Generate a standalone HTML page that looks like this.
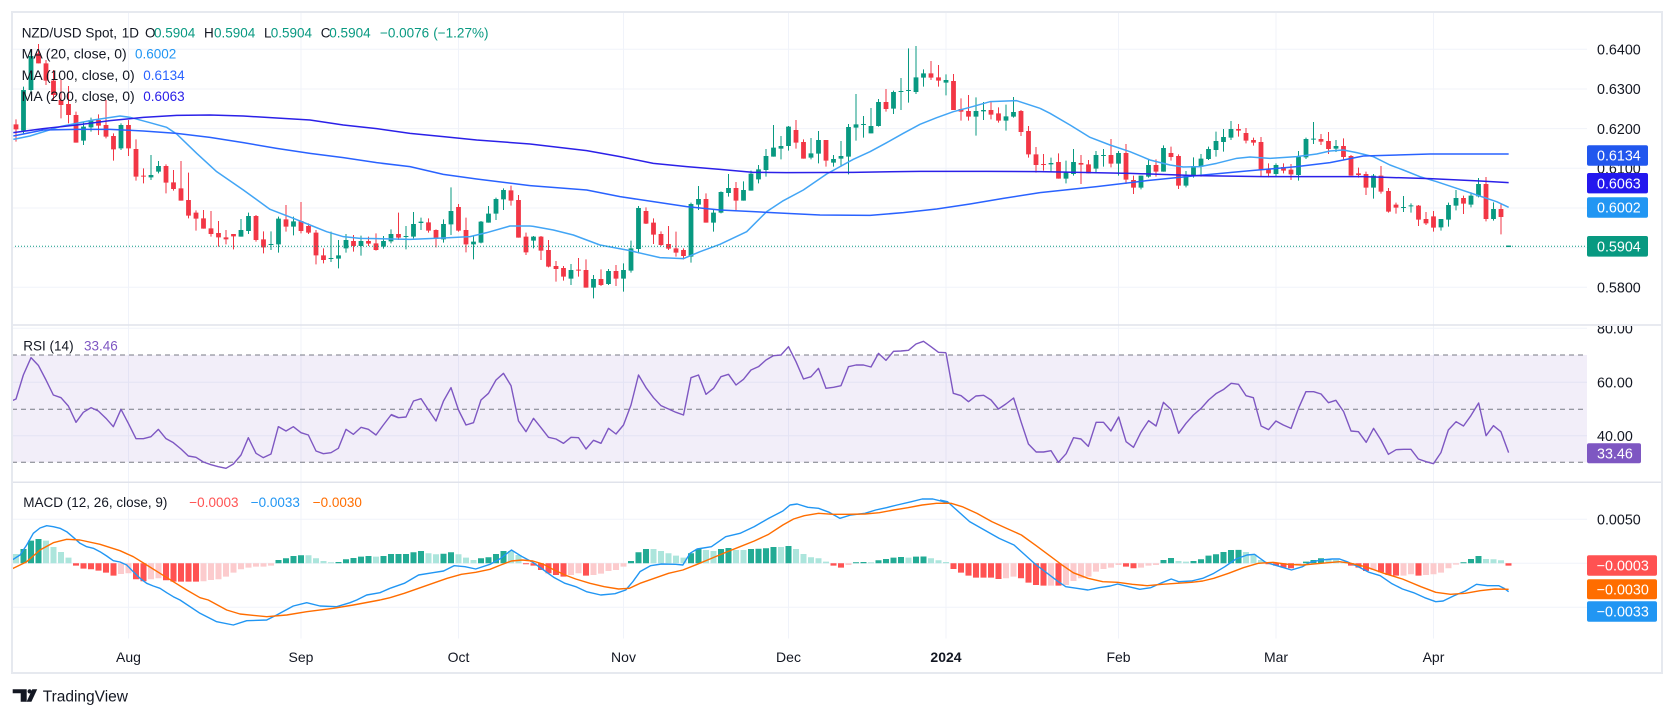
<!DOCTYPE html>
<html><head><meta charset="utf-8"><style>
html,body{margin:0;padding:0;background:#fff;}
svg{display:block;font-family:"Liberation Sans",Arial,sans-serif;}
</style></head><body>
<svg width="1675" height="718" viewBox="0 0 1675 718" xmlns="http://www.w3.org/2000/svg">
<defs>
<clipPath id="cp"><rect x="12" y="12" width="1575" height="313"/></clipPath>
<clipPath id="cr"><rect x="12" y="326" width="1575" height="156"/></clipPath>
<clipPath id="cm"><rect x="12" y="483" width="1575" height="156"/></clipPath>
<clipPath id="cra"><rect x="1587" y="326" width="75" height="156"/></clipPath>
</defs>
<rect x="0" y="0" width="1675" height="718" fill="#fff"/>
<!-- grid -->
<g stroke="#f0f3fa" stroke-width="1">
<path d="M12 49.3H1587M12 89H1587M12 128.6H1587M12 168.3H1587M12 208H1587M12 247.6H1587M12 287.3H1587"/>
<path d="M12 328.3H1587M12 382.3H1587M12 435.8H1587"/>
<path d="M12 519.3H1587M12 563.3H1587M12 607.3H1587"/>
<path d="M128.5 12V638.5M301 12V638.5M458.5 12V638.5M623.5 12V638.5M788.5 12V638.5M946 12V638.5M1118.5 12V638.5M1276 12V638.5M1433.5 12V638.5"/>
</g>
<!-- price pane -->
<g clip-path="url(#cp)">
<g transform="translate(16,30) scale(7.5,0.333333)">
<path vector-effect="non-scaling-stroke" stroke="#089981" stroke-width="1" fill="none" d="M1 170V310M2 60V185M9 275V345M10 263V305M14 280V360M18 375V450M19 393V430M30 567V620M31 548V612M34 604V660M35 560V668M37 560V616M42 605V696M43 630V715M44 612V668M46 617V677M49 618V656M50 598V640M52 588V658M53 546V625M54 563V600M57 568V638M58 472V615M61 617V688M62 573V640M63 528V578M64 503V570M65 475V540M69 618V655M74 702V765M77 735V805M79 717V765M81 700V785M82 632V728M83 528V670M90 518V698M91 468V540M93 537V605M94 484V550M95 432V500M97 454V512M98 422V482M99 405V460M100 357V440M101 285V380M102 318V388M103 288V362M106 324V388M107 303V400M109 375V410M110 333V410M111 282V433M112 192V332M113 258V323M114 234V310M115 207V290M117 182V252M118 144V240M119 55V218M120 48V192M121 118V170M124 133V196M128 202V317M129 216V270M132 224V302M133 201V263M138 383V425M140 392V460M141 357V437M144 363V430M145 357V410M147 363V437M150 437V478M151 390V443M153 346V425M156 423V472M157 382V443M158 372V440M159 350V390M160 305V380M161 297V365M162 273V330M168 400V440M171 363V452M172 323V387M173 276V342M176 330V366M181 432V506M185 498V546M186 520V548M190 567V602M191 518V590M192 480V541M194 487V532M195 444V502M197 517V572"/>
<path vector-effect="non-scaling-stroke" stroke="#f23645" stroke-width="1" fill="none" d="M0 268V335M3 42V100M4 90V165M5 120V210M6 150V265M7 168V280M8 245V338M11 253V315M12 210V325M13 310V392M15 270V378M16 328V452M17 415V460M20 403V490M21 420V482M22 393V512M23 428V565M24 541V602M25 540V596M26 543V620M27 573V650M28 600V643M29 612V658M32 555V635M33 604V670M36 525V605M38 516V610M39 580V612M40 600V703M41 655V700M45 615V665M47 620V648M48 610V662M51 548V630M55 565V608M56 598V652M59 522V605M60 563V667M66 467V527M67 495V623M68 608V675M70 618V690M71 630V712M72 693V755M73 708V752M75 684V740M76 688V773M78 718V768M80 705V768M84 532V582M85 565V642M86 604V648M87 588V660M88 605V680M89 655V688M92 490V578M96 456V540M104 270V356M105 328V386M108 330V410M116 177V245M122 93V150M123 105V170M125 132V240M126 205V272M127 195V272M130 215V268M131 232V278M134 240V318M135 288V383M136 351V428M137 372V422M139 370V446M142 375V462M143 390V430M146 327V412M148 342V462M149 437V492M152 388V440M154 350V392M155 373V477M163 282V320M164 294V340M165 323V347M166 321V438M167 400V442M169 400V430M170 402V450M174 312V345M175 306V372M177 325V388M178 375V437M179 413V443M180 425V495M182 408V491M183 474V548M184 518V551M187 525V588M188 546V585M189 543V605M193 497V552M196 441V574M198 522V613"/>
<path fill="#089981" d="M.68 180H1.32V302H.68zM1.68 78H2.32V180H1.68zM8.68 290H9.32V332H8.68zM9.68 270H10.32V292H9.68zM13.68 285H14.32V355H13.68zM17.68 435H18.32V442H17.68zM18.68 408H19.32V425H18.68zM29.68 600H30.32V620H29.68zM30.68 558H31.32V603H30.68zM33.68 642H34.32V645H33.68zM34.68 566H35.32V643H34.68zM36.68 574H37.32V590H36.68zM41.68 684H42.32V687H41.68zM42.68 676H43.32V686H42.68zM43.68 630H44.32V655H43.68zM45.68 633H46.32V648H45.68zM48.68 633H49.32V650H48.68zM49.68 612H50.32V634H49.68zM51.68 618H52.32V621H51.68zM52.68 582H53.32V620H52.68zM53.68 575H54.32V579H53.68zM56.68 582H57.32V628H56.68zM57.68 543H58.32V583H57.68zM60.68 635H61.32V643H60.68zM61.68 575H62.32V638H61.68zM62.68 551H63.32V578H62.68zM63.68 507H64.32V551H63.68zM64.68 480H65.32V508H64.68zM68.68 620H69.32V632H68.68zM73.68 720H74.32V746H73.68zM76.68 747H77.32V773H76.68zM78.68 723H79.32V762H78.68zM80.68 720H81.32V746H80.68zM81.68 655H82.32V722H81.68zM82.68 534H83.32V657H82.68zM89.68 522H90.32V680H89.68zM90.68 507H91.32V524H90.68zM92.68 548H93.32V578H92.68zM93.68 486H94.32V548H93.68zM94.68 474H95.32V489H94.68zM96.68 480H97.32V512H96.68zM97.68 431H98.32V482H97.68zM98.68 418H99.32V448H98.68zM99.68 378H100.32V420H99.68zM100.68 353H101.32V380H100.68zM101.68 348H102.32V356H101.68zM102.68 290H103.32V348H102.68zM105.68 370H106.32V383H105.68zM106.68 330H107.32V371H106.68zM108.68 387H109.32V398H108.68zM109.68 378H110.32V386H109.68zM110.68 291H111.32V380H110.68zM111.68 283H112.32V293H111.68zM112.68 282H113.32V285H112.68zM113.68 288H114.32V310H113.68zM114.68 216H115.32V288H114.68zM116.68 186H117.32V236H116.68zM117.68 183H118.32V186H117.68zM118.68 180H119.32V183H118.68zM119.68 142H120.32V186H119.68zM120.68 130H121.32V143H120.68zM123.68 150H124.32V158H123.68zM127.68 243H128.32V260H127.68zM128.68 240H129.32V244H128.68zM131.68 259H132.32V272H131.68zM132.68 246H133.32V260H132.68zM137.68 399H138.32V403H137.68zM139.68 428H140.32V446H139.68zM140.68 396H141.32V432H140.68zM143.68 375H144.32V416H143.68zM144.68 375H145.32V378H144.68zM146.68 369H147.32V401H146.68zM149.68 437H150.32V473H149.68zM150.68 405H151.32V440H150.68zM152.68 354H153.32V425H152.68zM155.68 435H156.32V467H155.68zM156.68 408H157.32V437H156.68zM157.68 386H158.32V410H157.68zM158.68 357H159.32V387H158.68zM159.68 333H160.32V360H159.68zM160.68 321H161.32V336H160.68zM161.68 297H162.32V323H161.68zM167.68 405H168.32V432H167.68zM170.68 380H171.32V435H170.68zM171.68 327H172.32V382H171.68zM172.68 326H173.32V329H172.68zM175.68 348H176.32V356H175.68zM180.68 437H181.32V473H180.68zM184.68 531H185.32V534H184.68zM185.68 526H186.32V529H185.68zM189.68 567H190.32V592H189.68zM190.68 525H191.32V569H190.68zM191.68 504H192.32V527H191.68zM193.68 497H194.32V524H193.68zM194.68 462H195.32V499H194.68zM196.68 537H197.32V567H196.68zM198.68 647H199.32V651H198.68z"/>
<path fill="#f23645" d="M-.32 283H.32V298H-.32zM2.68 70H3.32V100H2.68zM3.68 100H4.32V152H3.68zM4.68 152H5.32V195H4.68zM5.68 210H6.32V225H5.68zM6.68 222H7.32V255H6.68zM7.68 255H8.32V338H7.68zM10.68 270H11.32V287H10.68zM11.68 285H12.32V320H11.68zM12.68 318H13.32V358H12.68zM14.68 285H15.32V355H14.68zM15.68 357H16.32V440H15.68zM16.68 437H17.32V440H16.68zM19.68 408H20.32V458H19.68zM20.68 457H21.32V477H20.68zM21.68 475H22.32V512H21.68zM22.68 510H23.32V557H22.68zM23.68 548H24.32V566H23.68zM24.68 565H25.32V596H24.68zM25.68 595H26.32V612H25.68zM26.68 609H27.32V622H26.68zM27.68 622H28.32V628H27.68zM28.68 612H29.32V619H28.68zM31.68 558H32.32V630H31.68zM32.68 628H33.32V652H32.68zM35.68 568H36.32V590H35.68zM37.68 573H38.32V603H37.68zM38.68 588H39.32V608H38.68zM39.68 608H40.32V676H39.68zM40.68 676H41.32V690H40.68zM44.68 633H45.32V648H44.68zM46.68 633H47.32V641H46.68zM47.68 640H48.32V660H47.68zM50.68 612H51.32V623H50.68zM54.68 577H55.32V602H54.68zM55.68 600H56.32V626H55.68zM58.68 531H59.32V602H58.68zM59.68 600H60.32V643H59.68zM65.68 481H66.32V512H65.68zM66.68 510H67.32V623H66.68zM67.68 620H68.32V667H67.68zM69.68 620H70.32V662H69.68zM70.68 660H71.32V710H70.68zM71.68 708H72.32V717H71.68zM72.68 714H73.32V740H72.68zM74.68 719H75.32V722H74.68zM75.68 720H76.32V773H75.68zM77.68 747H78.32V765H77.68zM79.68 723H80.32V746H79.68zM83.68 543H84.32V581H83.68zM84.68 578H85.32V614H84.68zM85.68 612H86.32V645H85.68zM86.68 642H87.32V656H86.68zM87.68 655H88.32V668H87.68zM88.68 660H89.32V678H88.68zM91.68 507H92.32V578H91.68zM95.68 474H96.32V512H95.68zM103.68 300H104.32V338H103.68zM104.68 336H105.32V386H104.68zM107.68 330H108.32V392H107.68zM115.68 216H116.32V237H115.68zM121.68 130H122.32V143H121.68zM122.68 142H123.32V152H122.68zM124.68 153H125.32V240H124.68zM125.68 237H126.32V245H125.68zM126.68 243H127.32V260H126.68zM129.68 240H130.32V254H129.68zM130.68 250H131.32V272H130.68zM133.68 243H134.32V306H133.68zM134.68 303H135.32V373H134.68zM135.68 373H136.32V405H135.68zM136.68 402H137.32V405H136.68zM138.68 396H139.32V446H138.68zM141.68 399H142.32V404H141.68zM142.68 403H143.32V430H142.68zM145.68 375H146.32V401H145.68zM147.68 369H148.32V449H147.68zM148.68 450H149.32V473H148.68zM151.68 405H152.32V425H151.68zM153.68 369H154.32V381H153.68zM154.68 378H155.32V467H154.68zM162.68 297H163.32V302H162.68zM163.68 309H164.32V332H163.68zM164.68 330H165.32V338H164.68zM165.68 336H166.32V418H165.68zM166.68 418H167.32V430H166.68zM168.68 411H169.32V422H168.68zM169.68 419H170.32V433H169.68zM173.68 327H174.32V335H173.68zM174.68 333H175.32V357H174.68zM176.68 348H177.32V381H176.68zM177.68 378H178.32V437H177.68zM178.68 430H179.32V435H178.68zM179.68 432H180.32V473H179.68zM181.68 437H182.32V485H181.68zM182.68 483H183.32V545H182.68zM183.68 524H184.32V533H183.68zM186.68 527H187.32V569H186.68zM187.68 567H188.32V580H187.68zM188.68 559H189.32V593H188.68zM192.68 504H193.32V521H192.68zM195.68 462H196.32V567H195.68zM197.68 537H198.32V561H197.68z"/>
</g>
<!-- MAs -->
<g fill="none" stroke-width="1.5" stroke-linejoin="round">
<g transform="translate(10,30) scale(0.333333)">
<polyline vector-effect="non-scaling-stroke" stroke="#42a5f5" points="10,328 60,318 150,290 250,270 330,258 360,262 420,278 470,292 500,312 560,370 620,425 700,480 780,538 850,565 900,585 950,605 1000,620 1050,625 1100,626 1200,628 1300,624 1380,620 1430,608 1500,588 1560,588"/>
<polyline vector-effect="non-scaling-stroke" stroke="#2962ff" points="10,318 100,300 200,298 300,298 400,303 500,310 600,322 700,338 800,355 900,370 1000,383 1100,398 1200,410 1300,433 1400,447 1560,467"/>
<polyline vector-effect="non-scaling-stroke" stroke="#2b20e8" points="10,308 100,296 200,285 300,272 400,262 500,256 600,255 700,258 800,264 900,270 1000,285 1100,296 1200,310 1300,320 1400,330 1560,342"/>
</g>
<g transform="translate(520,30) scale(0.333333)">
<polyline vector-effect="non-scaling-stroke" stroke="#42a5f5" points="30,588 40,589 100,600 160,615 240,645 330,662 420,683 490,686 540,665 600,643 680,605 740,545 790,512 850,480 920,432 1000,388 1050,365 1100,338 1150,310 1200,283 1250,263 1300,245 1350,232 1410,215 1490,212 1560,235"/>
<polyline vector-effect="non-scaling-stroke" stroke="#2962ff" points="30,467 200,480 300,500 400,515 500,530 600,540 700,545 800,550 900,555 1050,556 1150,548 1250,537 1350,522 1450,505 1560,488"/>
<polyline vector-effect="non-scaling-stroke" stroke="#2b20e8" points="30,342 200,362 300,380 400,400 500,410 600,418 700,427 800,428 1000,427 1200,424 1400,424 1560,425"/>
</g>
<g transform="translate(1030,30) scale(0.333333)">
<polyline vector-effect="non-scaling-stroke" stroke="#42a5f5" points="30,235 60,250 120,285 180,322 240,345 300,365 360,390 420,405 460,411 510,410 560,400 620,385 660,381 720,385 800,380 860,372 900,363 940,360 980,368 1030,380 1080,405 1120,420 1170,440 1220,455 1280,475 1340,495 1400,515 1436,532"/>
<polyline vector-effect="non-scaling-stroke" stroke="#2962ff" points="30,488 200,470 350,452 500,437 650,423 800,410 900,398 1000,378 1200,372 1436,372"/>
<polyline vector-effect="non-scaling-stroke" stroke="#2b20e8" points="30,425 300,430 500,437 700,440 1000,440 1200,446 1350,453 1436,458"/>
</g>
</g>
<line x1="12" y1="246.3" x2="1587" y2="246.3" stroke="#089981" stroke-width="1" stroke-dasharray="1 2"/>
<line x1="1506" y1="246.3" x2="1511" y2="246.3" stroke="#089981" stroke-width="1.5"/>
</g>
<!-- RSI pane -->
<g clip-path="url(#cr)">
<rect x="12" y="355" width="1575" height="107.3" fill="#7e57c2" fill-opacity="0.1"/>
<g stroke="#787b86" stroke-width="1" stroke-dasharray="5 4">
<line x1="12" y1="355" x2="1587" y2="355"/>
<line x1="12" y1="409.3" x2="1587" y2="409.3"/>
<line x1="12" y1="462.3" x2="1587" y2="462.3"/>
</g>
<g fill="none" stroke="#7e57c2" stroke-width="1.4" stroke-linejoin="round">
<g transform="translate(0,300) scale(0.333333)">
<polyline vector-effect="non-scaling-stroke" points="30,305 48,297 70,225 93,173 115,196 138,240 160,285 183,293 205,318 228,367 250,337 273,323 295,333 318,355 340,380 363,328 385,370 408,416 430,416 453,410 475,388 498,416 520,428 543,447 565,468 588,472 610,486 633,494 655,500 678,505 700,492 723,465 745,413 768,460 790,473 813,462 835,380 858,393 880,380 903,398 925,405 948,453 970,461 993,458 1015,445 1038,388 1060,403 1083,382 1105,388 1128,405 1150,375 1173,345 1195,353"/>
</g>
<g transform="translate(390,325) scale(0.357143,0.333333)">
<polyline vector-effect="non-scaling-stroke" points="2.8,268 23.8,278 44.8,276 65.8,228 86.8,221 107.8,255 128.8,288 149.8,228 170.8,188 191.8,255 212.8,300 233.8,293 254.8,225 275.8,205 296.8,165 317.8,145 338.8,182 359.8,288 380.8,320 401.8,280 422.8,308 443.8,337 464.8,342 485.8,355 506.8,337 527.8,338 548.8,372 569.8,346 590.8,355 611.8,310 632.8,327 653.8,300 674.8,240 695.8,150 716.8,188 737.8,218 758.8,242 779.8,252 800.8,262 821.8,270 842.8,158 863.8,150 884.8,208 905.8,190 926.8,155 947.8,148 968.8,180 989.8,163 1010.8,135 1031.8,125 1052.8,105 1073.8,92 1094.8,90 1115.8,65 1136.8,110 1157.8,162 1178.8,155 1199.8,130 1220.8,190 1241.8,187 1262.8,182 1283.8,125 1304.8,120 1325.8,120 1346.8,126 1367.8,85 1388.8,106 1409.8,79 1430.8,78 1451.8,76 1472.8,57 1493.8,49 1514.8,65 1535.8,82 1556.8,83"/>
</g>
<g transform="translate(940,325) scale(0.369959,0.333333)">
<polyline vector-effect="non-scaling-stroke" points="16,83 36,205 57,212 77,230 97,213 118,211 138,225 158,252 178,237 199,219 219,290 239,357 260,381 280,381 300,377 320,412 341,386 361,338 381,342 401,364 422,292 442,292 462,318 483,276 503,350 523,367 543,322 564,287 584,303 604,232 625,254 645,325 665,295 685,270 706,250 726,225 746,206 767,193 787,175 807,178 827,212 847,218 868,303 888,314 908,288 928,300 949,310 969,250 989,200 1010,200 1030,207 1050,233 1070,226 1091,260 1111,318 1131,320 1152,352 1172,310 1192,345 1212,388 1233,374 1253,373 1273,373 1293,402 1314,410 1334,416 1354,383 1374,315 1395,290 1415,303 1435,272 1456,234 1476,332 1496,302 1516,320 1537,383"/>
</g>
</g>
</g>
<!-- MACD pane -->
<g clip-path="url(#cm)">
<g transform="translate(16,563.3) scale(7.5,1)">
<path fill="#22ab94" d="M.6 0V-14.3H1.4V0zM1.6 0V-22.7H2.4V0zM2.6 0V-24.3H3.4V0zM34.6 0V-3.3H35.4V0zM35.6 0V-5H36.4V0zM36.6 0V-7.3H37.4V0zM37.6 0V-8H38.4V0zM42.6 0V-1.3H43.4V0zM43.6 0V-4H44.4V0zM44.6 0V-5.3H45.4V0zM45.6 0V-6.7H46.4V0zM46.6 0V-7.3H47.4V0zM48.6 0V-7.3H49.4V0zM49.6 0V-9.3H50.4V0zM50.6 0V-9.3H51.4V0zM51.6 0V-9.3H52.4V0zM52.6 0V-11H53.4V0zM53.6 0V-12.3H54.4V0zM56.6 0V-9.5H57.4V0zM57.6 0V-11H58.4V0zM61.6 0V-5H62.4V0zM62.6 0V-6H63.4V0zM63.6 0V-9.3H64.4V0zM64.6 0V-12.3H65.4V0zM81.6 0V-2.3H82.4V0zM82.6 0V-11H83.4V0zM83.6 0V-14.3H84.4V0zM89.6 0V-10H90.4V0zM90.6 0V-14.3H91.4V0zM93.6 0V-14.3H94.4V0zM94.6 0V-15.3H95.4V0zM97.6 0V-14.3H98.4V0zM98.6 0V-14.5H99.4V0zM99.6 0V-15H100.4V0zM100.6 0V-16.3H101.4V0zM102.6 0V-17.3H103.4V0zM111.6 0V-1H112.4V0zM112.6 0V-1.3H113.4V0zM114.6 0V-3H115.4V0zM115.6 0V-4.3H116.4V0zM116.6 0V-5.7H117.4V0zM117.6 0V-6.3H118.4V0zM119.6 0V-6.7H120.4V0zM120.6 0V-6.8H121.4V0zM152.6 0V-3.3H153.4V0zM153.6 0V-5.3H154.4V0zM156.6 0V-2.3H157.4V0zM157.6 0V-4H158.4V0zM158.6 0V-7.7H159.4V0zM159.6 0V-9H160.4V0zM160.6 0V-11.3H161.4V0zM161.6 0V-13.3H162.4V0zM162.6 0V-13.4H163.4V0zM171.6 0V-1.7H172.4V0zM172.6 0V-3.3H173.4V0zM173.6 0V-5H174.4V0zM192.6 0V-1H193.4V0zM193.6 0V-4.3H194.4V0zM194.6 0V-7.3H195.4V0z"/>
<path fill="#ace5dc" d="M-.4 0V-9.3H.4V0zM3.6 0V-22.7H4.4V0zM4.6 0V-16.3H5.4V0zM5.6 0V-11.3H6.4V0zM6.6 0V-5.7H7.4V0zM38.6 0V-8H39.4V0zM39.6 0V-5H40.4V0zM40.6 0V-2.3H41.4V0zM41.6 0V-1H42.4V0zM47.6 0V-6.7H48.4V0zM54.6 0V-10H55.4V0zM55.6 0V-9H56.4V0zM58.6 0V-9H59.4V0zM59.6 0V-5.7H60.4V0zM60.6 0V-3.3H61.4V0zM65.6 0V-12.3H66.4V0zM66.6 0V-8.3H67.4V0zM84.6 0V-14.3H85.4V0zM85.6 0V-12.3H86.4V0zM86.6 0V-10H87.4V0zM87.6 0V-7.7H88.4V0zM88.6 0V-5.7H89.4V0zM91.6 0V-13.3H92.4V0zM92.6 0V-12.3H93.4V0zM95.6 0V-13.3H96.4V0zM96.6 0V-13.3H97.4V0zM101.6 0V-16.3H102.4V0zM103.6 0V-14.3H104.4V0zM104.6 0V-9.3H105.4V0zM105.6 0V-6H106.4V0zM106.6 0V-5H107.4V0zM107.6 0V-1.7H108.4V0zM113.6 0V-1H114.4V0zM118.6 0V-5.7H119.4V0zM121.6 0V-5H122.4V0zM122.6 0V-3H123.4V0zM123.6 0V-1.3H124.4V0zM154.6 0V-2.3H155.4V0zM155.6 0V-1.7H156.4V0zM163.6 0V-11.3H164.4V0zM164.6 0V-9H165.4V0zM165.6 0V-3.3H166.4V0zM174.6 0V-4H175.4V0zM175.6 0V-3.3H176.4V0zM176.6 0V-1.7H177.4V0zM195.6 0V-4.3H196.4V0zM196.6 0V-4H197.4V0zM197.6 0V-3H198.4V0z"/>
<path fill="#ff5252" d="M7.6 0V2.3H8.4V0zM8.6 0V5.3H9.4V0zM9.6 0V6H10.4V0zM10.6 0V7.3H11.4V0zM11.6 0V9.3H12.4V0zM12.6 0V12.3H13.4V0zM15.6 0V16H16.4V0zM16.6 0V18H17.4V0zM19.6 0V17H20.4V0zM20.6 0V18.3H21.4V0zM21.6 0V18.3H22.4V0zM22.6 0V18.3H23.4V0zM23.6 0V18.3H24.4V0zM67.6 0V1H68.4V0zM68.6 0V2.3H69.4V0zM69.6 0V6.7H70.4V0zM70.6 0V10H71.4V0zM71.6 0V11.7H72.4V0zM72.6 0V13.3H73.4V0zM75.6 0V12.3H76.4V0zM108.6 0V2.3H109.4V0zM109.6 0V4.3H110.4V0zM124.6 0V5.7H125.4V0zM125.6 0V9.3H126.4V0zM126.6 0V12.3H127.4V0zM127.6 0V14.3H128.4V0zM128.6 0V14.3H129.4V0zM129.6 0V14.3H130.4V0zM130.6 0V15.7H131.4V0zM133.6 0V15H134.4V0zM134.6 0V19.3H135.4V0zM135.6 0V21.7H136.4V0zM136.6 0V22.3H137.4V0zM138.6 0V22.3H139.4V0zM147.6 0V3.3H148.4V0zM148.6 0V5H149.4V0zM166.6 0V1H167.4V0zM167.6 0V2.3H168.4V0zM168.6 0V4.3H169.4V0zM169.6 0V5H170.4V0zM177.6 0V2.3H178.4V0zM178.6 0V4.3H179.4V0zM179.6 0V7.7H180.4V0zM181.6 0V9H182.4V0zM182.6 0V11.7H183.4V0zM183.6 0V12.3H184.4V0zM186.6 0V12.3H187.4V0zM198.6 0V2.3H199.4V0z"/>
<path fill="#fccbcd" d="M13.6 0V10.7H14.4V0zM14.6 0V10H15.4V0zM17.6 0V16H18.4V0zM18.6 0V15H19.4V0zM24.6 0V18H25.4V0zM25.6 0V16.7H26.4V0zM26.6 0V16H27.4V0zM27.6 0V13.3H28.4V0zM28.6 0V9.3H29.4V0zM29.6 0V6H30.4V0zM30.6 0V4.3H31.4V0zM31.6 0V3.3H32.4V0zM32.6 0V3.3H33.4V0zM33.6 0V2.3H34.4V0zM73.6 0V11.7H74.4V0zM74.6 0V10H75.4V0zM76.6 0V11.7H77.4V0zM77.6 0V10.3H78.4V0zM78.6 0V7.7H79.4V0zM79.6 0V6.7H80.4V0zM80.6 0V3.3H81.4V0zM110.6 0V1.7H111.4V0zM131.6 0V15H132.4V0zM132.6 0V13.3H133.4V0zM137.6 0V22.3H138.4V0zM139.6 0V21.7H140.4V0zM140.6 0V17.7H141.4V0zM141.6 0V15H142.4V0zM142.6 0V13.3H143.4V0zM143.6 0V8.3H144.4V0zM144.6 0V5.7H145.4V0zM145.6 0V4.3H146.4V0zM146.6 0V1.7H147.4V0zM149.6 0V4.3H150.4V0zM150.6 0V2.3H151.4V0zM151.6 0V1.7H152.4V0zM170.6 0V2.3H171.4V0zM180.6 0V6.7H181.4V0zM184.6 0V12.3H185.4V0zM185.6 0V11H186.4V0zM187.6 0V11.7H188.4V0zM188.6 0V11H189.4V0zM189.6 0V9.3H190.4V0zM190.6 0V5H191.4V0zM191.6 0V1.3H192.4V0z"/>
</g>
<g fill="none" stroke-width="1.4" stroke-linejoin="round">
<polyline stroke="#2196f3" points="10,561 13.3,559.3 20,555 26.7,545 33.3,533.3 40,528 46.7,525.7 53.3,526.7 60,528.3 66.7,531.7 73.3,537.3 80,543.3 86.7,546.7 93.3,548.3 100,551.7 106.7,556 113.3,560.7 120,562 126.7,565 133.3,571.7 140,578.3 146.7,583.3 153.3,586 160,588.3 166.7,592.7 173.3,596.7 180,600 200,613.3 216.7,621.7 233.3,625 246.7,620.7 266.7,620 276.7,615 293.3,606 306.7,602.7 320,606 336.7,606.7 350,602.7 356.7,600 366.7,595 380,592.7 390,588.3"/>
<polyline stroke="#ff6d00" points="10,570 13.3,568.3 26.7,561.7 40,550 53.3,542.7 66.7,539.3 80,540 100,544.3 120,550.7 133.3,556.7 146.7,565 160,573.3 173.3,581.7 186.7,590 200,597.7 208.3,600 226.7,610 240,614 266.7,616.7 286.7,615 306.7,611.7 333.3,608.3 353.3,605 380,600 390,597.7"/>
<g transform="translate(390,325) scale(0.357143,0.333333)">
<polyline vector-effect="non-scaling-stroke" stroke="#2196f3" points="0,790 40,775 80,750 120,743 150,738 180,722 210,725 240,732 280,718 310,700 340,675 370,695 400,712 430,735 460,758 490,775 520,785 550,800 590,810 630,806 660,795 680,770 700,740 730,722 760,717 800,718 820,720 840,685 860,672 900,665 940,635 980,625 1020,605 1060,580 1100,558 1120,540 1140,537 1170,547 1200,550 1230,562 1260,580 1290,570 1330,565 1360,555 1390,548 1420,540 1460,530 1490,522 1520,522 1550,530 1568,535"/>
<polyline vector-effect="non-scaling-stroke" stroke="#ff6d00" points="0,818 40,805 80,790 120,775 160,760 200,748 240,742 280,733 310,720 340,708 370,705 400,708 430,718 460,735 490,750 520,762 560,775 600,785 640,792 670,790 700,775 740,760 780,745 820,735 860,718 900,700 940,682 980,665 1020,648 1060,628 1100,600 1130,582 1160,572 1200,565 1240,568 1280,568 1330,567 1370,563 1410,555 1450,548 1490,540 1530,535 1568,535"/>
</g>
<g transform="translate(940,325) scale(0.369959,0.333333)">
<polyline vector-effect="non-scaling-stroke" stroke="#2196f3" points="0,525 20,530 40,550 80,590 120,615 160,640 200,660 230,690 260,720 290,745 320,770 340,785 370,790 400,795 430,788 460,783 480,777 510,785 540,793 570,788 600,773 625,762 645,770 680,768 710,760 740,745 770,725 800,702 830,690 850,688 880,712 920,725 950,735 980,725 1000,712 1030,705 1060,702 1080,702 1100,710 1130,725 1160,742 1190,752 1220,775 1250,792 1280,803 1310,818 1340,830 1360,828 1390,812 1420,798 1450,778 1480,782 1510,782 1525,790 1537,800"/>
<polyline vector-effect="non-scaling-stroke" stroke="#ff6d00" points="0,535 30,535 60,545 100,565 140,590 180,610 220,630 260,662 300,695 330,720 360,743 400,760 440,770 480,772 520,778 560,782 600,778 640,775 680,772 710,768 740,760 780,745 820,728 860,715 900,712 940,718 980,720 1030,715 1080,710 1110,715 1150,725 1200,745 1250,762 1300,785 1340,802 1380,808 1420,805 1460,797 1500,792 1537,793"/>
</g>
</g>
</g>
<!-- separators and frame -->
<line x1="12" y1="325" x2="1662" y2="325" stroke="#e0e3eb" stroke-width="1.5"/>
<line x1="12" y1="482.3" x2="1662" y2="482.3" stroke="#e0e3eb" stroke-width="1.5"/>
<rect x="12" y="12" width="1650" height="661" fill="none" stroke="#e6e9ef" stroke-width="2"/>
<!-- legends -->
<g font-size="13.5" fill="#131722">
<text x="21.7" y="37.5">NZD/USD Spot,</text>
<text x="121.7" y="37.5">1D</text>
<text x="145" y="37.5">O</text><text x="154" y="37.5" fill="#089981">0.5904</text>
<text x="204" y="37.5">H</text><text x="214" y="37.5" fill="#089981">0.5904</text>
<text x="264" y="37.5">L</text><text x="270.7" y="37.5" fill="#089981">0.5904</text>
<text x="320.7" y="37.5">C</text><text x="329.3" y="37.5" fill="#089981">0.5904</text>
<text x="380" y="37.5" fill="#089981">−0.0076</text>
<text x="433.3" y="37.5" fill="#089981">(−1.27%)</text>
<text x="21.7" y="58.5" textLength="105" lengthAdjust="spacingAndGlyphs">MA (20, close, 0)</text><text x="135" y="58.5" fill="#2196f3">0.6002</text>
<text x="21.7" y="79.8" textLength="113" lengthAdjust="spacingAndGlyphs">MA (100, close, 0)</text><text x="143.3" y="79.8" fill="#2962ff">0.6134</text>
<text x="21.7" y="100.8" textLength="113" lengthAdjust="spacingAndGlyphs">MA (200, close, 0)</text><text x="143.3" y="100.8" fill="#2b20e8">0.6063</text>
<text x="23.3" y="350.5">RSI (14)</text><text x="84" y="350.5" fill="#7e57c2">33.46</text>
<text x="23.3" y="507.1">MACD (12, 26, close, 9)</text>
<text x="189.3" y="507.1" fill="#ff5252">−0.0003</text>
<text x="250.7" y="507.1" fill="#2196f3">−0.0033</text>
<text x="312.7" y="507.1" fill="#ff6d00">−0.0030</text>
</g>
<!-- price axis -->
<g font-size="14.3" fill="#131722">
<text x="1597" y="54.5">0.6400</text>
<text x="1597" y="94.2">0.6300</text>
<text x="1597" y="133.8">0.6200</text>
<text x="1597" y="173.5">0.6100</text>
<text x="1597" y="213.2">0.6000</text>
<text x="1597" y="252.8">0.5900</text>
<text x="1597" y="292.5">0.5800</text>
<g clip-path="url(#cra)">
<text x="1597" y="333.5">80.00</text>
<text x="1597" y="387.5">60.00</text>
<text x="1597" y="441">40.00</text>
</g>
<text x="1597" y="524.5">0.0050</text>
</g>
<g font-size="14.3" fill="#fff">
<rect x="1587" y="145.3" width="61" height="20.4" rx="2" fill="#2157ee"/>
<text x="1597" y="160.7">0.6134</text>
<rect x="1587" y="173" width="61" height="20.4" rx="2" fill="#2418ee"/>
<text x="1597" y="188.4">0.6063</text>
<rect x="1587" y="197.3" width="61" height="20.4" rx="2" fill="#2196f3"/>
<text x="1597" y="212.7">0.6002</text>
<rect x="1587" y="236" width="61" height="20.6" rx="2" fill="#089981"/>
<text x="1597" y="251.5">0.5904</text>
<rect x="1587" y="443.3" width="54" height="20" rx="2" fill="#7e57c2"/>
<text x="1597" y="458.5">33.46</text>
<rect x="1587" y="555.3" width="70" height="20.4" rx="2" fill="#ff5252"/>
<text x="1596.7" y="570.7">−0.0003</text>
<rect x="1587" y="579.3" width="70" height="20" rx="2" fill="#ff6d00"/>
<text x="1596.7" y="594.5">−0.0030</text>
<rect x="1587" y="601.3" width="70" height="20.4" rx="2" fill="#2196f3"/>
<text x="1596.7" y="616.7">−0.0033</text>
</g>
<!-- time axis -->
<g font-size="14" fill="#131722" text-anchor="middle">
<text x="128.5" y="662">Aug</text>
<text x="301" y="662">Sep</text>
<text x="458.5" y="662">Oct</text>
<text x="623.5" y="662">Nov</text>
<text x="788.5" y="662">Dec</text>
<text x="946" y="662" font-weight="bold">2024</text>
<text x="1118.5" y="662">Feb</text>
<text x="1276" y="662">Mar</text>
<text x="1433.5" y="662">Apr</text>
</g>
<!-- logo -->
<g fill="#131722">
<path d="M12.7 689.3H26.7V701.7H20.7V693.3H12.7z"/>
<circle cx="29.6" cy="691.4" r="2.1"/>
<path d="M32.3 689.3H37.2L31.4 701.7H26.6z"/>
<text x="42.7" y="701.7" font-size="15.5">TradingView</text>
</g>
</svg>
</body></html>
